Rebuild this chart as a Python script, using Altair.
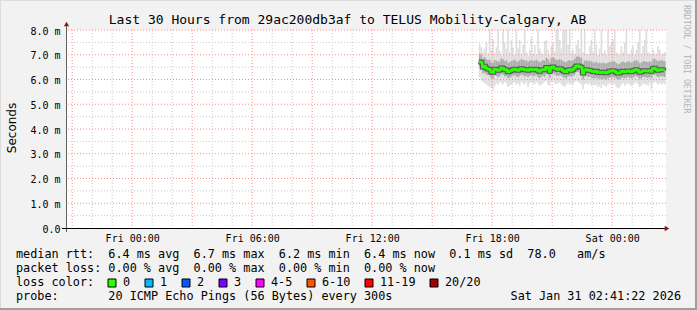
import altair as alt
import pandas as pd

# ---------------- data ----------------
first_sample = "2026-01-30 17:20"   # UTC, 5-minute samples
median_ms = [
    6.72, 6.70, 6.50, 6.55, 6.46, 6.42, 6.40, 6.30,
    6.28, 6.42, 6.40, 6.36, 6.38, 6.47, 6.45, 6.38, 6.40, 6.30, 6.33, 6.36,
    6.40, 6.42, 6.38, 6.36, 6.40, 6.44, 6.42, 6.38, 6.40, 6.36, 6.40, 6.42,
    6.38, 6.40, 6.42, 6.36, 6.32, 6.38, 6.40, 6.38, 6.50, 6.46, 6.32, 6.48,
    6.52, 6.45, 6.42, 6.40, 6.44, 6.42, 6.36, 6.32, 6.30, 6.38, 6.40, 6.36,
    6.40, 6.46, 6.55, 6.56, 6.52, 6.50, 6.25, 6.38, 6.40, 6.36, 6.38, 6.34,
    6.32, 6.30, 6.34, 6.28, 6.30, 6.27, 6.30, 6.28, 6.26, 6.30, 6.34, 6.33,
    6.36, 6.34, 6.28, 6.25, 6.26, 6.32, 6.34, 6.30, 6.32, 6.35, 6.33, 6.30,
    6.34, 6.38, 6.40, 6.36, 6.28, 6.30, 6.35, 6.36, 6.34, 6.33, 6.36, 6.32,
    6.44, 6.46, 6.40, 6.36, 6.38, 6.40, 6.38, 6.36,
]
min_ms = [
    6.10, 5.95, 5.90, 5.85, 5.80, 5.75, 5.70, 5.65,
    5.60, 5.75, 5.85, 5.80, 5.90, 5.85, 5.80, 5.90, 5.85, 5.70, 5.75, 5.80,
    5.85, 5.90, 5.80, 5.85, 5.75, 5.90, 5.85, 5.80, 5.90, 5.70, 5.85, 5.90,
    5.85, 5.80, 5.90, 5.85, 5.75, 5.80, 5.85, 5.90, 5.95, 5.80, 5.75, 5.90,
    5.95, 5.85, 5.80, 5.85, 5.90, 5.80, 5.75, 5.70, 5.80, 5.85, 5.80, 5.85,
    5.80, 5.90, 5.95, 5.90, 5.85, 5.80, 5.60, 5.80, 5.85, 5.80, 5.85, 5.75,
    5.80, 5.75, 5.80, 5.70, 5.75, 5.65, 5.80, 5.75, 5.70, 5.80, 5.85, 5.80,
    5.85, 5.80, 5.70, 5.65, 5.70, 5.80, 5.85, 5.75, 5.80, 5.85, 5.80, 5.75,
    5.80, 5.85, 5.90, 5.80, 5.70, 5.75, 5.85, 5.80, 5.80, 5.75, 5.85, 5.60,
    5.85, 5.90, 5.85, 5.80, 5.85, 5.80, 5.85, 5.80,
]
q1_ms = [
    6.45, 6.40, 6.25, 6.28, 6.20, 6.18, 6.15, 6.05,
    6.02, 6.18, 6.15, 6.10, 6.14, 6.22, 6.20, 6.12, 6.15, 6.05, 6.08, 6.12,
    6.15, 6.18, 6.12, 6.10, 6.15, 6.20, 6.18, 6.12, 6.16, 6.10, 6.15, 6.18,
    6.12, 6.15, 6.18, 6.10, 6.06, 6.12, 6.16, 6.12, 6.25, 6.20, 6.06, 6.22,
    6.26, 6.20, 6.16, 6.14, 6.18, 6.16, 6.10, 6.06, 6.04, 6.12, 6.15, 6.10,
    6.15, 6.20, 6.30, 6.30, 6.26, 6.25, 6.00, 6.12, 6.15, 6.10, 6.12, 6.08,
    6.06, 6.04, 6.08, 6.02, 6.05, 6.00, 6.04, 6.02, 6.00, 6.05, 6.08, 6.07,
    6.10, 6.08, 6.02, 6.00, 6.00, 6.06, 6.08, 6.04, 6.06, 6.10, 6.08, 6.04,
    6.08, 6.12, 6.15, 6.10, 6.02, 6.05, 6.10, 6.10, 6.08, 6.07, 6.10, 6.06,
    6.18, 6.20, 6.15, 6.10, 6.12, 6.15, 6.12, 6.10,
]
q3_ms = [
    7.05, 7.00, 6.85, 6.90, 6.82, 6.78, 6.80, 6.70,
    6.68, 6.78, 6.76, 6.72, 6.75, 6.85, 6.82, 6.74, 6.78, 6.68, 6.70, 6.74,
    6.76, 6.80, 6.74, 6.72, 6.78, 6.82, 6.80, 6.76, 6.78, 6.72, 6.76, 6.80,
    6.74, 6.76, 6.80, 6.74, 6.70, 6.74, 6.78, 6.76, 6.88, 6.82, 6.70, 6.86,
    6.90, 6.84, 6.80, 6.78, 6.82, 6.80, 6.74, 6.72, 6.70, 6.76, 6.78, 6.74,
    6.78, 6.84, 6.92, 6.94, 6.90, 6.88, 6.65, 6.76, 6.78, 6.74, 6.76, 6.72,
    6.70, 6.68, 6.72, 6.66, 6.68, 6.65, 6.68, 6.66, 6.64, 6.68, 6.72, 6.70,
    6.74, 6.72, 6.66, 6.62, 6.64, 6.70, 6.72, 6.68, 6.70, 6.74, 6.72, 6.68,
    6.72, 6.76, 6.78, 6.74, 6.66, 6.68, 6.74, 6.74, 6.72, 6.70, 6.74, 6.70,
    6.82, 6.84, 6.78, 6.74, 6.76, 6.78, 6.76, 6.74,
]
max_ms = [
    7.45, 7.30, 7.10, 7.25, 7.50, 7.05, 8.20, 7.20,
    7.60, 7.05, 7.30, 8.20, 7.15, 7.00, 8.20, 7.50, 7.25, 8.20, 7.10, 7.60,
    7.30, 7.00, 8.20, 7.25, 7.60, 7.05, 7.40, 8.20, 7.10, 6.95, 7.20, 7.70,
    7.05, 7.40, 7.00, 8.20, 7.25, 7.10, 7.00, 7.55, 7.60, 7.20, 7.00, 7.35,
    7.50, 7.10, 8.20, 8.20, 7.60, 7.25, 8.20, 8.20, 8.20, 7.40, 8.20, 7.10,
    7.20, 7.05, 7.40, 7.60, 7.25, 8.20, 7.10, 8.20, 7.05, 7.00, 7.35, 7.60,
    7.10, 8.20, 7.40, 7.00, 7.25, 8.20, 7.05, 7.20, 7.00, 8.20, 7.35, 7.50,
    7.60, 8.20, 7.10, 7.05, 7.00, 7.35, 7.10, 7.50, 8.20, 7.05, 7.00, 7.20,
    7.35, 7.00, 7.20, 7.50, 8.20, 7.05, 7.35, 7.60, 8.20, 7.10, 7.05, 7.00,
    7.20, 7.05, 7.00, 7.35, 7.20, 7.00, 7.05, 7.10,
]

y_tick_values = [0, 1, 2, 3, 4, 5, 6, 7, 8]
y_minor_grid = [0.5, 1.5, 2.5, 3.5, 4.5, 5.5, 6.5, 7.5]
y_major_grid = [1, 2, 3, 4, 5, 6, 7, 8]

title_text = "Last 30 Hours from 29ac200db3af to TELUS Mobility-Calgary, AB"
legend_line1 = "median rtt:  6.4 ms avg  6.7 ms max  6.2 ms min  6.4 ms now  0.1 ms sd  78.0   am/s"
legend_line2 = "packet loss: 0.00 % avg  0.00 % max  0.00 % min  0.00 % now"
legend_line3 = "loss color:"
legend_line4 = "probe:       20 ICMP Echo Pings (56 Bytes) every 300s"
stamp_text = "Sat Jan 31 02:41:22 2026"
side_text = "RRDTOOL / TOBI OETIKER"
loss_labels = ["0", "1", "2", "3", "4-5", "6-10", "11-19", "20/20"]
loss_colors = ["#26ff00", "#00b8ff", "#0059ff", "#7e00ff", "#ff00ff", "#ff5500", "#ff0000", "#a00000"]

# ---------------- tables ----------------
t0 = pd.Timestamp(first_sample)
times = pd.date_range(t0, periods=len(median_ms), freq="5min")
df = pd.DataFrame({
    "t": times.strftime("%Y-%m-%dT%H:%M:%SZ"),
    "t2": (times + pd.Timedelta(minutes=5)).strftime("%Y-%m-%dT%H:%M:%SZ"),
    "med": median_ms, "lo": min_ms, "q1": q1_ms, "q3": q3_ms, "hi": max_ms,
})

hours = pd.date_range("2026-01-29 21:00", "2026-01-31 02:00", freq="1h")
grid_df = pd.DataFrame({
    "t": hours.strftime("%Y-%m-%dT%H:%M:%SZ"),
    "major": [h.hour % 3 == 0 for h in hours],
})
gx_minor = grid_df[~grid_df["major"]][["t"]]
gx_major = grid_df[grid_df["major"]][["t"]]

L, T = 66, 30   # plot origin inside the 697x310 canvas
PW, PH = 600, 198
MONO = "DejaVu Sans Mono"

x_scale = alt.Scale(
    type="utc",
    domain=[alt.DateTime(year=2026, month=1, date=29, hours=20, minutes=41, seconds=22, utc=True),
            alt.DateTime(year=2026, month=1, date=31, hours=2, minutes=41, seconds=22, utc=True)],
)
y_scale = alt.Scale(domain=[0, 8], nice=False, zero=True)

x_axis = alt.Axis(
    values=[alt.DateTime(year=2026, month=1, date=d, hours=h, utc=True)
            for d, h in [(30, 0), (30, 6), (30, 12), (30, 18), (31, 0)]],
    labelExpr="utcFormat(datum.value, '%a %H:%M')",
    title=None, domain=False, ticks=False, tickSize=0, grid=False,
    labelFont=MONO, labelFontSize=10, labelColor="black",
    labelPadding=5, labelBaseline="top", labelFlush=False, labelOverlap=False,
)
y_axis = alt.Axis(
    values=y_tick_values,
    labelExpr="datum.value == 0 ? '0.0\u00a0\u00a0' : format(datum.value, '.1f') + ' m'",
    title="Seconds", titleFont="DejaVu Sans", titleFontSize=12, titleFontWeight="normal",
    titleColor="black", titleAngle=-90, titleX=15 - L, titleY=127.5 - T,
    titleAlign="center", titleBaseline="alphabetic",
    domain=False, ticks=False, tickSize=0, grid=False,
    labelFont=MONO, labelFontSize=10, labelColor="black",
    labelPadding=6, labelBaseline="middle", labelOffset=1, labelOverlap=False,
)

def X(field):
    return alt.X(field, scale=x_scale, axis=x_axis, title=None)

def Y(field):
    return alt.Y(field, scale=y_scale, axis=y_axis, title="Seconds")

base = alt.Chart(df)

smoke_outer = base.mark_rect(color="#dedede", clip=True).encode(
    x=X("t:T"), x2="t2:T", y=Y("lo:Q"), y2="hi:Q",
)
smoke_mid = base.mark_rect(color="#ababab", clip=True).encode(
    x=X("t:T"), x2="t2:T", y=Y("q1:Q"), y2="q3:Q",
)

grid_minor_x = alt.Chart(gx_minor).mark_rule(color="#c8c8c8", strokeDash=[1, 2], strokeWidth=1).encode(
    x=X("t:T"))
grid_major_x = alt.Chart(gx_major).mark_rule(color="#ff8c8c", strokeDash=[1, 2], strokeWidth=1).encode(
    x=X("t:T"))
grid_minor_y = alt.Chart(pd.DataFrame({"med": y_minor_grid})).mark_rule(
    color="#c8c8c8", strokeDash=[1, 2], strokeWidth=1).encode(y=Y("med:Q"))
grid_major_y = alt.Chart(pd.DataFrame({"med": y_major_grid})).mark_rule(
    color="#ff8c8c", strokeDash=[1, 2], strokeWidth=1).encode(y=Y("med:Q"))

core = base.mark_line(color="#555555", strokeWidth=4.5, interpolate="step-after").encode(
    x=X("t:T"), y=Y("med:Q"),
)
median_line = base.mark_line(color=loss_colors[0], strokeWidth=2.5, interpolate="step-after").encode(
    x=X("t:T"), y=Y("med:Q"),
)

one = pd.DataFrame({"a": [0]})

def rule(x1, y1, x2, y2, color, width=1):
    return alt.Chart(one).mark_rule(color=color, strokeWidth=width).encode(
        x=alt.value(x1 - L), y=alt.value(y1 - T), x2=alt.value(x2 - L), y2=alt.value(y2 - T))

def text(s, x, y, size=11.8, font=MONO, color="black", align="left", baseline="alphabetic", angle=0):
    return alt.Chart(one).mark_text(
        text=s.replace(" ", "\u00a0"), font=font, fontSize=size, color=color,
        align=align, baseline=baseline, angle=angle,
    ).encode(x=alt.value(x - L), y=alt.value(y - T))

decor = [
    rule(66.5, 24, 66.5, 232, "#606060"),
    rule(62, 228.5, 666, 228.5, "#000000"),
    alt.Chart(one).mark_point(shape="triangle-up", filled=True, color="#8b1a1a", size=28, opacity=1).encode(
        x=alt.value(66.5 - L), y=alt.value(24 - T)),
    alt.Chart(one).mark_point(shape="triangle-right", filled=True, color="#8b1a1a", size=28, opacity=1).encode(
        x=alt.value(667 - L), y=alt.value(228.5 - T)),
    # 3-D frame
    rule(0, 0.5, 697, 0.5, "#dcdcdc", 1),
    rule(0.5, 0, 0.5, 310, "#dcdcdc", 1),
    rule(0, 309, 697, 309, "#9e9e9e", 2),
    rule(696, 0, 696, 310, "#9e9e9e", 2),
]

texts = [
    text(title_text, 347.5, 24, size=13, align="center"),
    text(legend_line1, 16, 258),
    text(legend_line2, 16, 272),
    text(legend_line3, 16, 286),
    text(legend_line4, 16, 299.5),
    text(stamp_text, 681, 299.5, align="right"),
    text(side_text, 686, 5, size=8.2, color="#b4b4b4", align="left", baseline="middle", angle=90),
]

# loss colour legend: box then label, laid out left to right
legend_items = []
bx = 108.0
for lab, col in zip(loss_labels, loss_colors):
    legend_items.append(
        alt.Chart(one).mark_rect(color=col, stroke="black", strokeWidth=1).encode(
            x=alt.value(bx - L), x2=alt.value(bx + 8 - L),
            y=alt.value(279 - T), y2=alt.value(287 - T)))
    lx = bx + 15
    legend_items.append(text(lab, lx, 286))
    bx = lx + 7.0 * len(lab) + 15

chart = alt.layer(
    smoke_outer, smoke_mid,
    grid_minor_x, grid_minor_y, grid_major_x, grid_major_y,
    core, median_line,
    *decor, *texts, *legend_items,
).properties(
    width=PW, height=PH,
    padding={"left": L, "top": T, "right": 697 - L - PW, "bottom": 310 - T - PH},
    autosize=alt.AutoSizeParams(type="none"),
    background="#f2f2f2",
).configure_view(fill="white", stroke=None)

chart.save("out.html", embed_options={"renderer": "svg", "actions": False})
